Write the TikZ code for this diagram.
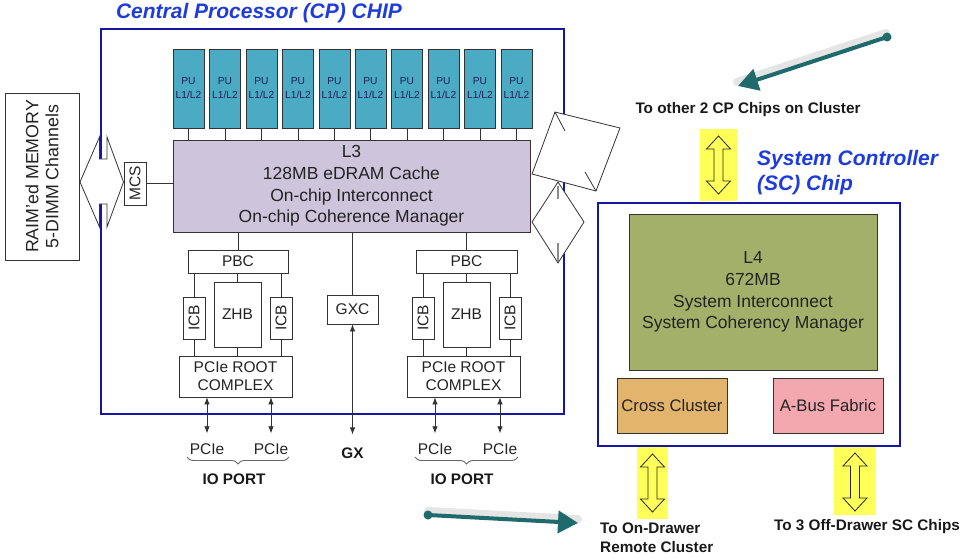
\documentclass[tikz,border=0pt]{standalone}
\usepackage{fontspec}
\setmainfont{Liberation Sans}
\usetikzlibrary{arrows.meta,decorations.pathreplacing}
\definecolor{chipblue}{RGB}{22,22,160}
\definecolor{titleblue}{RGB}{30,60,220}
\definecolor{pufill}{RGB}{75,170,196}
\definecolor{punavy}{RGB}{30,30,85}
\definecolor{lthree}{RGB}{206,196,220}
\definecolor{lfour}{RGB}{163,176,106}
\definecolor{crossfill}{RGB}{226,180,108}
\definecolor{abusfill}{RGB}{242,168,174}
\definecolor{hilite}{RGB}{255,255,90}
\definecolor{arrowteal}{RGB}{30,106,108}
\definecolor{txt}{RGB}{35,35,35}
\begin{document}
\begin{tikzpicture}[x=1pt,y=-1pt,
  every node/.style={inner sep=0pt},
  unit/.style={draw=black!80,line width=0.8pt,text=txt,font=\fontsize{15.5}{18}\selectfont},
  pu/.style={unit,fill=pufill,minimum width=31pt,minimum height=79pt,align=center,text=punavy,font=\fontsize{10.2}{14}\selectfont},
  side/.style={unit,rotate=90,minimum width=42pt,minimum height=22pt},
  chip/.style={draw=chipblue,line width=2.4pt},
  link/.style={draw=black!80,line width=0.8pt},
  io/.style={link,{Latex[length=7pt,width=5.5pt]}-{Latex[length=7pt,width=5.5pt]}},
  lbl/.style={text=txt,font=\fontsize{15.5}{18}\selectfont},
  tag/.style={text=black!90,font=\bfseries\fontsize{15.3}{19}\selectfont},
  heading/.style={text=titleblue,font=\bfseries\itshape\fontsize{21}{25}\selectfont},
  glow/.style={fill=hilite,minimum width=37pt,minimum height=72pt},
  yarrow/.style={draw=black!85,line width=0.8pt,fill=hilite},
  pointer/.style={draw=arrowteal,line width=4pt,-{Triangle[length=20pt,width=22pt]}},
  halo/.style={draw=black,opacity=0.1,line width=8pt,line cap=round},
  port/.style={draw=black!60,line width=0.9pt,decorate,decoration={brace,mirror,amplitude=7pt}}]
\useasboundingbox (0,0) rectangle (964,559);
\node[heading] (cptitle) at (259,13) {Central Processor (CP) CHIP};
\draw[chip] (101,29) rectangle (564,414);
\node[pu] (pu1) at (188.5,88.5) {PU\\L1/L2};
\node[pu] (pu2) at (225,88.5) {PU\\L1/L2};
\node[pu] (pu3) at (261.5,88.5) {PU\\L1/L2};
\node[pu] (pu4) at (298,88.5) {PU\\L1/L2};
\node[pu] (pu5) at (334.5,88.5) {PU\\L1/L2};
\node[pu] (pu6) at (370.5,88.5) {PU\\L1/L2};
\node[pu] (pu7) at (407,88.5) {PU\\L1/L2};
\node[pu] (pu8) at (443.5,88.5) {PU\\L1/L2};
\node[pu] (pu9) at (480,88.5) {PU\\L1/L2};
\node[pu] (pu10) at (516.5,88.5) {PU\\L1/L2};
\node[unit,fill=lthree,minimum width=357pt,minimum height=92pt,align=center,font=\fontsize{17.5}{21.7}\selectfont] (l3) at (351.5,186) {L3\\128MB eDRAM Cache\\On-chip Interconnect\\On-chip Coherence Manager};
\draw[link] (pu1.south) -- (pu1.south |- l3.north);
\draw[link] (pu2.south) -- (pu2.south |- l3.north);
\draw[link] (pu3.south) -- (pu3.south |- l3.north);
\draw[link] (pu4.south) -- (pu4.south |- l3.north);
\draw[link] (pu5.south) -- (pu5.south |- l3.north);
\draw[link] (pu6.south) -- (pu6.south |- l3.north);
\draw[link] (pu7.south) -- (pu7.south |- l3.north);
\draw[link] (pu8.south) -- (pu8.south |- l3.north);
\draw[link] (pu9.south) -- (pu9.south |- l3.north);
\draw[link] (pu10.south) -- (pu10.south |- l3.north);
\node[unit,rotate=90,minimum width=167pt,minimum height=74pt,align=center,font=\fontsize{17.8}{20}\selectfont] (mem) at (42,176.5) {RAIM'ed MEMORY\\5-DIMM Channels};
\node[side,minimum width=43pt] (mcs) at (135,183.5) {MCS};
\draw[link] (mcs) -- (mcs -| l3.west);
\draw[link,fill=white] (80,182) -- (99.5,137) -- (99.5,159) -- (107,159) -- (107,137) -- (123.5,182) -- (107,227) -- (107,204) -- (99.5,204) -- (99.5,227) -- cycle;
\node[unit,minimum width=100pt,minimum height=23pt] (pbcA) at (238,261.5) {PBC};
\node[side] (icbA) at (194,318) {ICB};
\node[unit,minimum width=47pt,minimum height=65pt] (zhbA) at (237.5,314.5) {ZHB};
\node[side] (icbB) at (281,318) {ICB};
\node[unit,minimum width=113pt,minimum height=41pt,align=center,font=\fontsize{15.5}{18}\selectfont] (rootA) at (235.5,376.5) {PCIe ROOT\\COMPLEX};
\node[unit,minimum width=51pt,minimum height=29pt] (gxc) at (352.5,309.5) {GXC};
\node[unit,minimum width=101pt,minimum height=23pt] (pbcB) at (466.5,261.5) {PBC};
\node[side] (icbC) at (423,318) {ICB};
\node[unit,minimum width=47pt,minimum height=65pt] (zhbB) at (466.5,314.5) {ZHB};
\node[side] (icbD) at (510,318) {ICB};
\node[unit,minimum width=113pt,minimum height=41pt,align=center,font=\fontsize{15.5}{18}\selectfont] (rootB) at (463.5,376.5) {PCIe ROOT\\COMPLEX};
\draw[link] (pbcA.north) -- (pbcA.north |- l3.south);
\draw[link] (pbcB.north) -- (pbcB.north |- l3.south);
\draw[link] (gxc.north) -- (gxc.north |- l3.south);
\draw[link] (icbA.east) -- (icbA.east |- pbcA.south);
\draw[link] (icbB.east) -- (icbB.east |- pbcA.south);
\draw[link] (zhbA.north) -- (zhbA.north |- pbcA.south);
\draw[link] (icbA.west) -- (icbA.west |- rootA.north);
\draw[link] (icbB.west) -- (icbB.west |- rootA.north);
\draw[link] (zhbA.south) -- (zhbA.south |- rootA.north);
\draw[link] (icbC.east) -- (icbC.east |- pbcB.south);
\draw[link] (icbD.east) -- (icbD.east |- pbcB.south);
\draw[link] (zhbB.north) -- (zhbB.north |- pbcB.south);
\draw[link] (icbC.west) -- (icbC.west |- rootB.north);
\draw[link] (icbD.west) -- (icbD.west |- rootB.north);
\draw[link] (zhbB.south) -- (zhbB.south |- rootB.north);
\draw[link,fill=white] (532,222) -- (558,182) -- (584,222) -- (558,263) -- cycle;
\draw[black!45,line width=2pt] (558,186) -- (558,199) (558,243) -- (558,261);
\draw[link,fill=white] (555,112) -- (620,128) -- (596,191) -- (532,174) -- cycle;
\draw[link] (555,112) -- (565,131) (596,191) -- (585,172);
\node[lbl] (pcieA) at (207,449) {PCIe};
\node[lbl] (pcieB) at (271,449) {PCIe};
\node[lbl] (pcieC) at (435,449) {PCIe};
\node[lbl] (pcieD) at (500,449) {PCIe};
\node[tag] (gx) at (352.5,453) {GX};
\draw[io] (rootA.south -| pcieA) -- ([yshift=10pt]pcieA.north);
\draw[io] (rootA.south -| pcieB) -- ([yshift=10pt]pcieB.north);
\draw[io] (rootB.south -| pcieC) -- ([yshift=10pt]pcieC.north);
\draw[io] (rootB.south -| pcieD) -- ([yshift=10pt]pcieD.north);
\draw[io] (gxc.south) -- ([yshift=13pt]gx.north);
\draw[port] (187,457) -- (289,457);
\draw[port] (415,457) -- (518,457);
\node[tag] (portA) at (234,479) {IO PORT};
\node[tag] (portB) at (462,479) {IO PORT};
\node[tag] (tocp) at (748,110) {To other 2 CP Chips on Cluster};
\node[glow] (upglow) at (718.5,165) {};
\draw[yarrow] ([yshift=29pt]upglow.center) -- ++(12,13) -- ++(-7.5,0) -- ++(0,32) -- ++(7.5,0) -- ++(-12,13) -- ++(-12,-13) -- ++(7.5,0) -- ++(0,-32) -- ++(-7.5,0) -- cycle;
\node[heading,anchor=west,align=left] (sctitle) at (757,172.5) {System Controller\\(SC) Chip};
\draw[chip] (598,203) rectangle (900,446);
\node[unit,fill=lfour,minimum width=248pt,minimum height=156pt,align=center,font=\fontsize{17.5}{21.7}\selectfont] (l4) at (753,292) {L4\\672MB\\System Interconnect\\System Coherency Manager};
\node[unit,fill=crossfill,minimum width=110pt,minimum height=55pt,font=\fontsize{16.7}{20}\selectfont] (cross) at (672,405.5) {Cross Cluster};
\node[unit,fill=abusfill,minimum width=110pt,minimum height=55pt,font=\fontsize{16.7}{20}\selectfont] (abus) at (828,405.5) {A-Bus Fabric};
\node[glow,minimum width=31pt] (leftglow) at (652.5,483) {};
\draw[yarrow] ([yshift=29pt]leftglow.center) -- ++(12,13) -- ++(-7.5,0) -- ++(0,32) -- ++(7.5,0) -- ++(-12,13) -- ++(-12,-13) -- ++(7.5,0) -- ++(0,-32) -- ++(-7.5,0) -- cycle;
\node[glow,minimum width=42pt,minimum height=68pt] (rightglow) at (855,481) {};
\draw[yarrow] ([yshift=28pt]rightglow.center) -- ++(12,13) -- ++(-7.5,0) -- ++(0,32) -- ++(7.5,0) -- ++(-12,13) -- ++(-12,-13) -- ++(7.5,0) -- ++(0,-32) -- ++(-7.5,0) -- cycle;
\node[tag,anchor=west,align=left] (todrawer) at (600,537.5) {To On-Drawer\\Remote Cluster};
\node[tag] (tooff) at (867,527) {To 3 Off-Drawer SC Chips};
\coordinate (tailA) at (887,37);
\coordinate (headA) at (738,86);
\coordinate (tailB) at (428,515);
\coordinate (headB) at (578,523);
\draw[halo] ([shift={(-1,-4)}]tailA) -- ([shift={(-1,-4)}]headA);
\draw[halo] ([shift={(0,-4)}]tailB) -- ([shift={(0,-4)}]headB);
\draw[pointer] (tailA) -- (headA);
\draw[pointer] (tailB) -- (headB);
\fill[arrowteal] (tailA) circle (4.5);
\fill[arrowteal] (tailB) circle (4.5);
\end{tikzpicture}
\end{document}
